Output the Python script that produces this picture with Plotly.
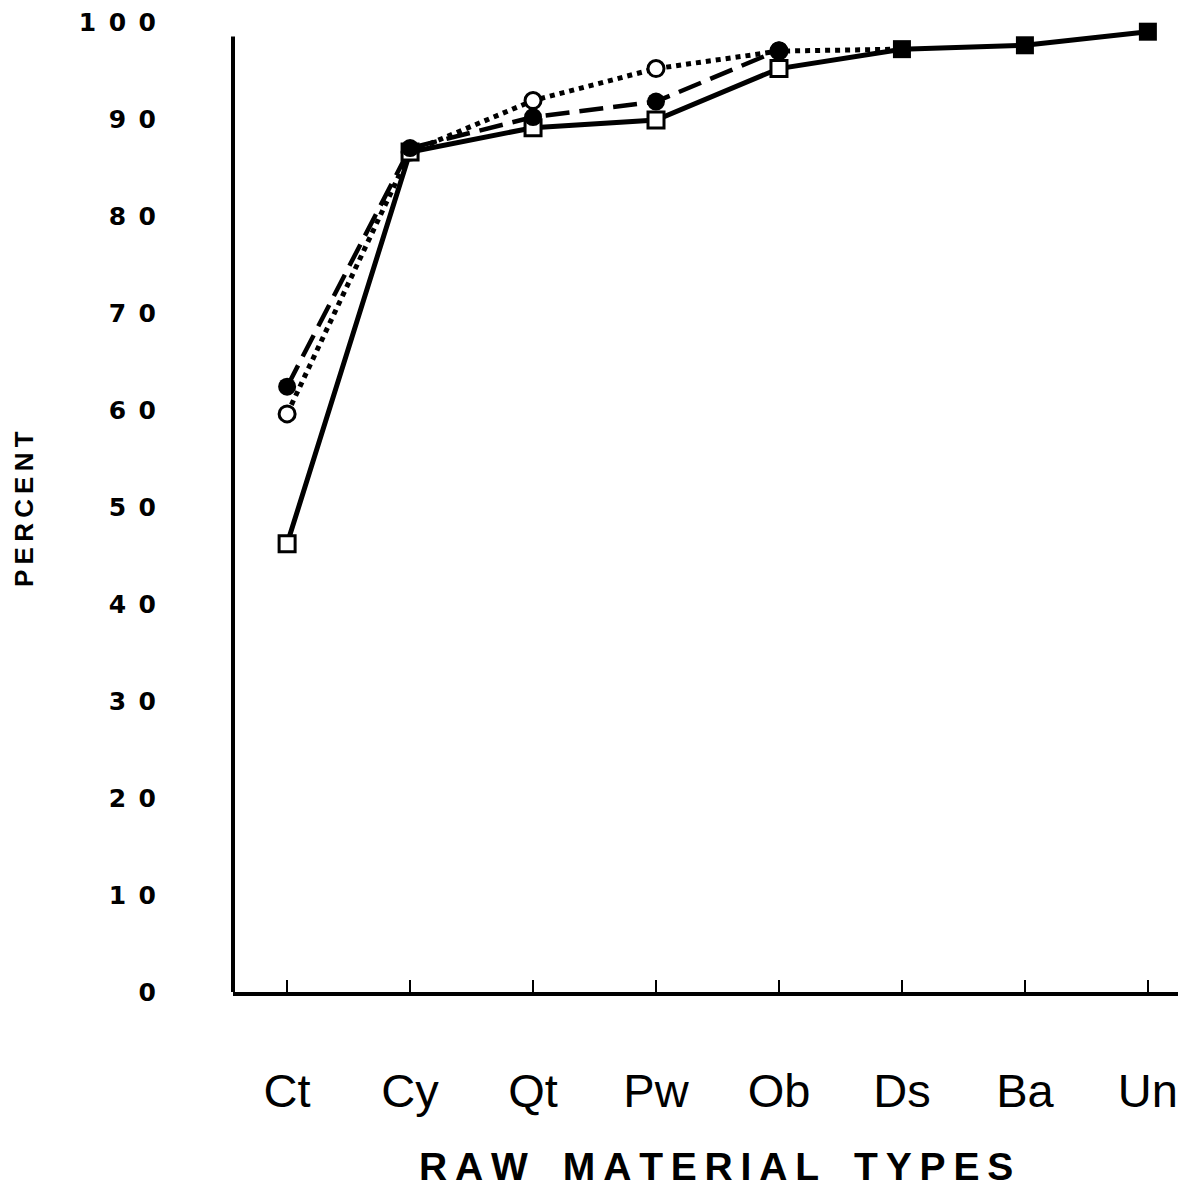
import plotly.graph_objects as go

categories = ["Ct", "Cy", "Qt", "Pw", "Ob", "Ds", "Ba", "Un"]
x_idx = list(range(len(categories)))

solid_vals = [46.2, 86.6, 89.1, 89.9, 95.2, 97.2, 97.6, 99.0]
dashed_vals = [62.4, 87.0, 90.2, 91.8, 97.1]
dotted_vals = [59.6, 86.6, 91.9, 95.2, 97.0, 97.2]

y_ticks = [0, 10, 20, 30, 40, 50, 60, 70, 80, 90, 100]
y_ticktext = ["\u2002".join(str(v)) for v in y_ticks]

n_open = 5  # first five points of the solid series drawn as open squares

fig = go.Figure()

def line_trace(xs, ys, dash, width):
    return go.Scatter(x=xs, y=ys, mode="lines", line=dict(color="black", width=width, dash=dash),
                      cliponaxis=False, showlegend=False, hoverinfo="skip")

def marker_trace(xs, ys, symbol, size, fill, lw):
    return go.Scatter(x=xs, y=ys, mode="markers",
                      marker=dict(symbol=symbol, size=size, color=fill, opacity=1,
                                  line=dict(color="black", width=lw)),
                      cliponaxis=False, showlegend=False)

# lines
fig.add_trace(line_trace(x_idx[:len(dotted_vals)], dotted_vals, "5px,5px", 5))
fig.add_trace(line_trace(x_idx[:len(dashed_vals)], dashed_vals, "24px,10px", 4.5))
fig.add_trace(line_trace(x_idx, solid_vals, "solid", 5))

# markers
fig.add_trace(marker_trace(x_idx[:5], dotted_vals[:5], "circle", 16, "white", 3))
fig.add_trace(marker_trace(x_idx[:n_open], solid_vals[:n_open], "square", 16, "white", 3))
fig.add_trace(marker_trace(x_idx[:len(dashed_vals)], dashed_vals, "circle", 18, "black", 0))
fig.add_trace(marker_trace(x_idx[n_open:], solid_vals[n_open:], "square", 18, "black", 0))

W, H = 1178, 1184  # page body has an 8px margin
T = "\u2009"
title = (T.join("RAW") + "\u2002" + T + T + T.join("MATERIAL") + "\u2002" + T + T + T.join("TYPES"))

fig.update_layout(
    width=W, height=H,
    margin=dict(l=225, r=0, t=14, b=200, autoexpand=False),
    paper_bgcolor="white", plot_bgcolor="white",
    font=dict(family="Liberation Sans, Arial, sans-serif", color="black"),
    xaxis=dict(
        range=[-0.44, 7.31], tickmode="array", tickvals=x_idx, ticktext=categories,
        showgrid=False, zeroline=False, showline=True, linecolor="black", linewidth=4,
        ticks="inside", ticklen=12, tickwidth=2, tickcolor="black",
        tickfont=dict(size=47, color="black"), ticklabelstandoff=55,
        ticklabeloverflow="allow",
    ),
    yaxis=dict(
        range=[0, 100], tickmode="array", tickvals=y_ticks, ticktext=y_ticktext,
        showgrid=False, zeroline=False, showline=False, ticks="",
        tickfont=dict(size=25, color="black", weight="bold",
                      family="DejaVu Sans, Liberation Sans, sans-serif"),
        ticklabelstandoff=76, ticklabeloverflow="allow",
    ),
    shapes=[dict(type="line", xref="paper", yref="y", x0=0, x1=0, y0=0, y1=98.5,
                 line=dict(color="black", width=4))],
    annotations=[
        dict(text=title,
             xref="paper", yref="paper", x=0.507, y=-0.180, xanchor="center", yanchor="middle",
             showarrow=False, font=dict(size=39, weight="bold", color="black")),
        dict(text="\u2009".join("PERCENT"), textangle=-90,
             xref="paper", yref="y", x=-0.2193, y=49.8, xanchor="center", yanchor="middle",
             showarrow=False, font=dict(size=26, weight="bold", color="black")),
    ],
)

fig.write_html("out.html")
